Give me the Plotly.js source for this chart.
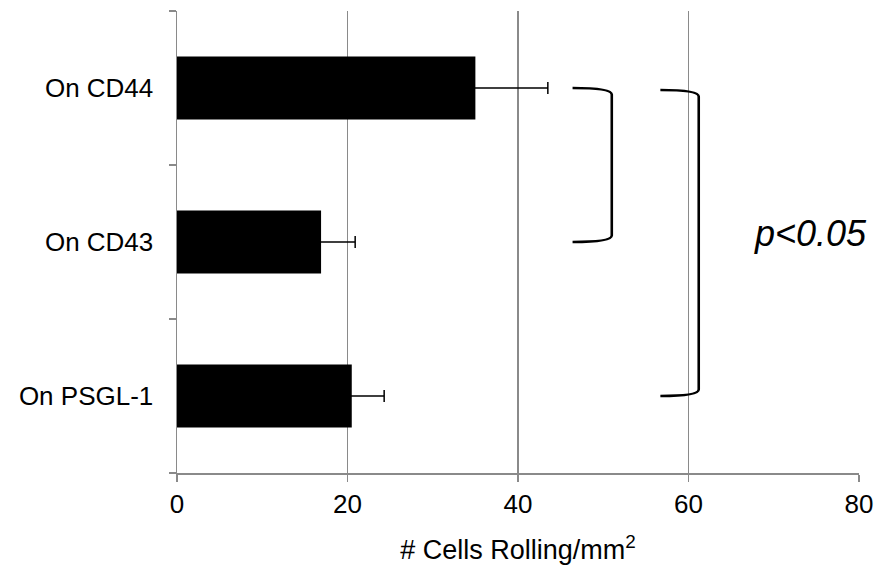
<!DOCTYPE html>
<html>
<head>
<meta charset="utf-8">
<script src="https://cdn.plot.ly/plotly-3.0.1.min.js"></script>
<style>html,body{margin:0;padding:0;background:#fff;}#chart{width:889px;height:586px;}</style>
</head>
<body>
<div id="chart"></div>
<script>
// Data (bottom to top on the category axis)
const categories = ['On PSGL-1', 'On CD43', 'On CD44'];
const cellsRolling = [20.5, 16.9, 35.0];
const errors = [3.8, 4.0, 8.5];
const xTickValues = [0, 20, 40, 60, 80];
const xTitle = '# Cells Rolling/mm<sup>2</sup>';
const pLabel = 'p<0.05';

const FONT = 'Arial, "Liberation Sans", sans-serif';
const GRAY = '#8a8a8a';

const trace = {
  type: 'bar',
  orientation: 'h',
  y: categories,
  x: cellsRolling,
  width: 0.41,
  marker: {color: '#000000', line: {width: 0}},
  error_x: {type: 'data', array: errors, visible: true, color: '#000000', thickness: 1.5, width: 6},
  hoverinfo: 'x+y',
  showlegend: false
};

// bracket helper (x in data units, y in paper units)
function bracket(x0, x1, yTop, yBot) {
  const c = 0.014;
  return 'M ' + x0 + ',' + yTop + ' Q ' + x1 + ',' + yTop + ' ' + x1 + ',' + (yTop - c) +
         ' L ' + x1 + ',' + (yBot + c) + ' Q ' + x1 + ',' + yBot + ' ' + x0 + ',' + yBot;
}

const layout = {
  width: 889,
  height: 586,
  margin: {l: 177, r: 30, t: 11, b: 113},
  paper_bgcolor: '#ffffff',
  plot_bgcolor: '#ffffff',
  font: {family: FONT, color: '#000000', size: 26},
  bargap: 0.59,
  xaxis: {
    range: [0, 80],
    tickvals: xTickValues,
    ticktext: xTickValues.map(String),
    showgrid: true,
    gridcolor: GRAY,
    gridwidth: 1.5,
    zeroline: false,
    showline: true,
    linecolor: GRAY,
    linewidth: 1.5,
    ticks: 'outside',
    ticklen: 7,
    tickwidth: 1.5,
    tickcolor: GRAY,
    tickfont: {family: FONT, size: 26, color: '#000'},
    title: {text: xTitle, font: {family: FONT, size: 27, color: '#000'}, standoff: 22},
    fixedrange: true
  },
  yaxis: {
    type: 'category',
    categoryorder: 'array',
    categoryarray: categories,
    showgrid: false,
    zeroline: false,
    showline: true,
    linecolor: GRAY,
    linewidth: 1.5,
    ticks: 'outside',
    tickson: 'boundaries',
    ticklen: 7,
    tickwidth: 1.5,
    tickcolor: GRAY,
    tickfont: {family: FONT, size: 26, color: '#000'},
    ticklabelstandoff: 17,
    fixedrange: true
  },
  shapes: [
    {type: 'path', xref: 'x', yref: 'paper', path: bracket(46.4, 51.0, 0.8333, 0.5),
     line: {color: '#000', width: 2.6}},
    {type: 'path', xref: 'x', yref: 'paper', path: bracket(56.7, 61.2, 0.8290, 0.1667),
     line: {color: '#000', width: 2.6}}
  ],
  annotations: [
    {text: '<i>' + pLabel + '</i>', xref: 'x', yref: 'paper', x: 74.3, y: 0.519,
     showarrow: false, xanchor: 'center', yanchor: 'middle',
     font: {family: FONT, size: 36, color: '#000'}}
  ]
};

Plotly.newPlot('chart', [trace], layout, {displayModeBar: false, staticPlot: true});
</script>
</body>
</html>
